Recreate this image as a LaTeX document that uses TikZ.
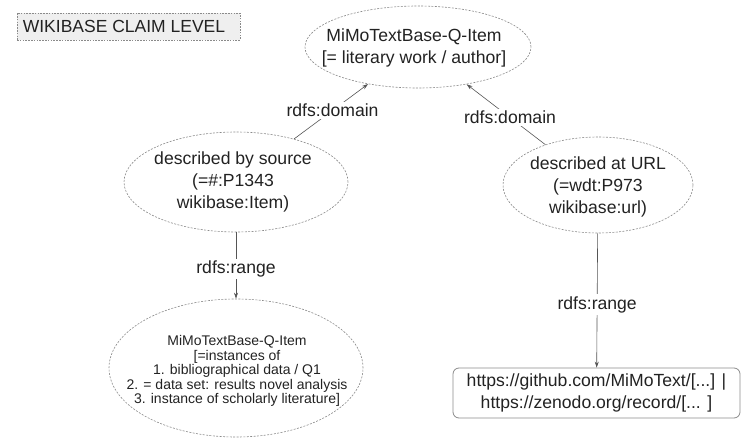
\documentclass[tikz,border=0pt]{standalone}
\usepackage{fontspec}
\setmainfont{Liberation Sans}
\usetikzlibrary{shapes.geometric,arrows.meta}
\definecolor{ink}{HTML}{222222}
\definecolor{edge}{HTML}{555555}
\definecolor{rim}{HTML}{8A8A8A}
\definecolor{panel}{HTML}{EFEFEF}
\tikzset{
  ell/.style={ellipse, draw=rim, dash pattern=on 2pt off 1.4pt, line width=0.6pt, inner sep=0pt},
  txt/.style={align=center, text=ink, font=\fontsize{17.6}{22}\selectfont, inner sep=0pt},
  small/.style={align=center, text=ink, font=\fontsize{14}{14.6}\selectfont, inner sep=0pt},
  conn/.style={draw=edge, line width=0.6pt, -{Stealth[length=6pt,width=4pt]}},
  lbl/.style={fill=white, text=ink, font=\fontsize{17.6}{20}\selectfont, inner sep=2pt},
  urlbox/.style={draw=rim, rounded corners=6pt, line width=0.8pt, minimum width=287pt, minimum height=50pt, inner sep=0pt},
  titlebox/.style={draw=rim, fill=panel, dash pattern=on 1.6pt off 1.2pt, line width=0.6pt, minimum width=223pt, minimum height=27pt, inner sep=0pt}
}
\begin{document}
\begin{tikzpicture}[x=1pt, y=-1pt]
  \useasboundingbox (0,0) rectangle (744,441);

  % heading
  \node[titlebox] (head) at (128.5,26.5) {};
  \node[text=ink, font=\fontsize{17.5}{20}\selectfont, inner sep=0pt] (headtxt) at (124,26.5) {WIKIBASE CLAIM LEVEL};

  % ellipses
  \node[ell, minimum width=226pt, minimum height=82pt] (top) at (418,47) {};
  \node[txt] (toptxt) at (414,48) {MiMoTextBase-Q-Item\\{}[= literary work / author]};

  \node[ell, minimum width=224pt, minimum height=100pt] (src) at (236,182) {};
  \node[txt] (srctxt) at (233,182) {described by source\\(=\#:P1343\\wikibase:Item)};

  \node[ell, minimum width=190pt, minimum height=96pt] (url) at (598,185) {};
  \node[txt] (urltxt) at (598,187) {described at URL\\(=wdt:P973\\wikibase:url)};

  \node[ell, minimum width=254pt, minimum height=138pt] (inst) at (236,368) {};
  \node[small] (insttxt) at (237,371) {MiMoTextBase-Q-Item\\{}[=instances of\\1. bibliographical data / Q1\\2. = data set: results novel analysis\\3. instance of scholarly literature]};

  % target box
  \node[urlbox] (links) at (596.5,393) {};
  \node[txt] (linkstxt) at (links) {https://github.com/MiMoText/[...] |\\https://zenodo.org/record/[... ]};

  % connectors
  \draw[conn] (src) -- node[lbl, pos=0.52] {rdfs:domain} (top);
  \draw[conn] (url) -- node[lbl, pos=0.45] {rdfs:domain} (top);
  \draw[conn] (src.south) -- node[lbl, pos=0.55] {rdfs:range} (inst.north);
  \draw[conn] (url) -- node[lbl, pos=0.53] {rdfs:range} (links);
\end{tikzpicture}
\end{document}
